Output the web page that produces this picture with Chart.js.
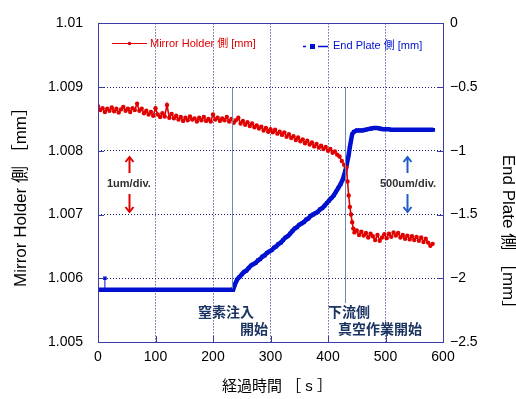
<!DOCTYPE html>
<html><head><meta charset="utf-8">
<script src="https://cdn.jsdelivr.net/npm/chart.js@4/dist/chart.umd.min.js"></script>
<style>html,body{margin:0;padding:0;background:#fff}</style>
</head><body>
<canvas id="c" width="516" height="399"></canvas>
<script>
// ---- data ----
const xTickValues = [0,100,200,300,400,500,600];
const leftTickValues = [1.005,1.006,1.007,1.008,1.009,1.01];
const rightTickValues = [-2.5,-2,-1.5,-1,-0.5,0];

const redTimes = [0,4,8,12,16,20,24,28,32,36,40,44,48,52,56,60,64,68,72,76,80,84,88,92,96,100,104,108,112,116,120,124,128,132,136,140,144,148,152,156,160,164,168,172,176,180,184,188,192,196,200,204,208,212,216,220,224,228,232,236,240,244,248,252,256,260,264,268,272,276,280,284,288,292,296,300,304,308,312,316,320,324,328,332,336,340,344,348,352,356,360,364,368,372,376,380,384,388,392,396,400,404,408,412,416,420,424,428,432,434,436,438,440,442,444,446,450,454,458,462,466,470,474,478,482,486,490,494,498,502,506,510,514,518,522,526,530,534,538,542,546,550,554,558,562,566,570,574,578,582];
const redValues = [1.00870,1.00864,1.00867,1.00861,1.00866,1.00863,1.00868,1.00862,1.00866,1.00860,1.00865,1.00869,1.00863,1.00866,1.00861,1.00867,1.00864,1.00874,1.00863,1.00866,1.00859,1.00863,1.00857,1.00861,1.00855,1.00867,1.00857,1.00853,1.00859,1.00854,1.00872,1.00852,1.00858,1.00851,1.00855,1.00849,1.00853,1.00847,1.00852,1.00848,1.00854,1.00849,1.00851,1.00846,1.00852,1.00848,1.00853,1.00847,1.00850,1.00846,1.00857,1.00849,1.00852,1.00847,1.00851,1.00848,1.00853,1.00846,1.00850,1.00844,1.00848,1.00852,1.00843,1.00847,1.00841,1.00845,1.00839,1.00843,1.00837,1.00840,1.00835,1.00838,1.00832,1.00836,1.00830,1.00834,1.00829,1.00833,1.00827,1.00830,1.00825,1.00829,1.00822,1.00826,1.00820,1.00823,1.00817,1.00821,1.00815,1.00818,1.00812,1.00816,1.00810,1.00813,1.00807,1.00811,1.00805,1.00808,1.00803,1.00806,1.00800,1.00803,1.00797,1.00799,1.00794,1.00791,1.00784,1.00778,1.00774,1.00752,1.00730,1.00712,1.00700,1.00688,1.00678,1.00672,1.00675,1.00668,1.00673,1.00667,1.00671,1.00664,1.00670,1.00666,1.00660,1.00668,1.00659,1.00664,1.00669,1.00663,1.00670,1.00665,1.00672,1.00667,1.00671,1.00664,1.00668,1.00662,1.00667,1.00661,1.00666,1.00660,1.00665,1.00659,1.00664,1.00657,1.00662,1.00656,1.00651,1.00654];

const blueTimes = [0,5,10,15,20,25,30,35,40,45,50,55,60,65,70,75,80,85,90,95,100,105,110,115,120,125,130,135,140,145,150,155,160,165,170,175,180,185,190,195,200,205,210,215,220,225,230,235,238,242,246,250,254,258,262,266,270,274,278,282,286,290,294,298,302,306,310,314,318,322,326,330,334,338,342,346,350,354,358,362,366,370,374,378,382,386,390,394,398,402,406,410,414,418,422,426,430,433,436,438,440,442,445,450,455,460,465,470,475,480,485,490,495,500,505,510,515,520,525,530,535,540,545,550,555,560,565,570,575,580,583];
const blueValues = [-2.09,-2.09,-2.09,-2.09,-2.09,-2.09,-2.09,-2.09,-2.09,-2.09,-2.09,-2.09,-2.09,-2.09,-2.09,-2.09,-2.09,-2.09,-2.09,-2.09,-2.09,-2.09,-2.09,-2.09,-2.09,-2.09,-2.09,-2.09,-2.09,-2.09,-2.09,-2.09,-2.09,-2.09,-2.09,-2.09,-2.09,-2.09,-2.09,-2.09,-2.09,-2.09,-2.09,-2.09,-2.09,-2.09,-2.09,-2.09,-2.05,-2.01,-1.99,-1.97,-1.95,-1.94,-1.92,-1.90,-1.89,-1.88,-1.86,-1.85,-1.83,-1.82,-1.80,-1.79,-1.78,-1.76,-1.75,-1.73,-1.72,-1.70,-1.68,-1.67,-1.65,-1.63,-1.61,-1.60,-1.58,-1.57,-1.56,-1.54,-1.53,-1.51,-1.50,-1.49,-1.48,-1.46,-1.45,-1.43,-1.41,-1.39,-1.37,-1.35,-1.32,-1.29,-1.26,-1.22,-1.16,-1.10,-1.03,-0.97,-0.92,-0.87,-0.85,-0.84,-0.84,-0.84,-0.835,-0.83,-0.825,-0.82,-0.82,-0.825,-0.83,-0.83,-0.83,-0.835,-0.835,-0.835,-0.835,-0.835,-0.835,-0.835,-0.835,-0.835,-0.835,-0.835,-0.835,-0.835,-0.835,-0.835,-0.835];

const blueStemTimes = [12,12];
const blueStemValues = [-2.09,-2.00];

const eventTimes = [233, 429];
const eventLineTop = [1.009, 1.009];
const eventLineBottom = [1.00584, 1.00561];

const legendLabels = ['Mirror Holder 側 [mm]', 'End Plate 側 [mm]'];
const xTitle = '経過時間 ［ s ］';
const leftTitle = 'Mirror Holder 側 ［mm］';
const rightTitle = 'End Plate 側 ［mm］';
const noteTexts = [['窒素注入','開始'],['下流側','真空作業開始']];
const scaleTexts = ['1um/div.','500um/div.'];

// ---- styles ----
const RED = '#e00000', BLUE = '#0010d0', FRAME = '#3c3ca8', GRID = '#1c1c78';
const NOTE = '#1c3461', EVLINE = '#6a8cb4';
const FONT = "'Liberation Sans', 'Noto Sans CJK JP', sans-serif";

const toXY = (xs, ys) => xs.map((x, i) => ({x, y: ys[i]}));

const overlay = {
  id: 'overlay',
  afterDatasetsDraw(chart) {
    const {ctx, chartArea: a, scales: {x, y, y2}} = chart;
    const r = v => Math.round(v) + 0.5;
    ctx.save();
    // event lines
    ctx.strokeStyle = EVLINE; ctx.lineWidth = 1;
    eventTimes.forEach((t, i) => {
      const px = r(x.getPixelForValue(t));
      ctx.beginPath();
      ctx.moveTo(px, y.getPixelForValue(eventLineTop[i]));
      ctx.lineTo(px, y.getPixelForValue(eventLineBottom[i]));
      ctx.stroke();
    });
    // frame
    ctx.strokeStyle = FRAME; ctx.lineWidth = 1;
    ctx.strokeRect(r(a.left), r(a.top), Math.round(a.right) - Math.round(a.left), Math.round(a.bottom) - Math.round(a.top));
    // inward ticks
    ctx.beginPath();
    xTickValues.forEach(v => { const px = r(x.getPixelForValue(v)); ctx.moveTo(px, a.bottom); ctx.lineTo(px, a.bottom - 6); });
    leftTickValues.forEach(v => { const py = r(y.getPixelForValue(v)); ctx.moveTo(a.left, py); ctx.lineTo(a.left + 6, py); });
    rightTickValues.forEach(v => { const py = r(y2.getPixelForValue(v)); ctx.moveTo(a.right, py); ctx.lineTo(a.right - 6, py); });
    ctx.stroke();

    // legend
    ctx.textBaseline = 'middle'; ctx.textAlign = 'left';
    ctx.font = '11px ' + FONT;
    ctx.strokeStyle = RED; ctx.fillStyle = RED; ctx.lineWidth = 1;
    ctx.beginPath(); ctx.moveTo(112, 43.5); ctx.lineTo(147, 43.5); ctx.stroke();
    ctx.beginPath(); ctx.arc(129.5, 43.5, 1.8, 0, Math.PI * 2); ctx.fill();
    ctx.fillText(legendLabels[0], 150, 44);
    ctx.strokeStyle = BLUE; ctx.fillStyle = BLUE; ctx.lineWidth = 1.5;
    ctx.beginPath(); ctx.moveTo(303, 46.5); ctx.lineTo(306, 46.5); ctx.moveTo(318, 46.5); ctx.lineTo(328, 46.5); ctx.stroke();
    ctx.fillRect(310, 44, 5, 5);
    ctx.fillText(legendLabels[1], 333, 46);

    // notes
    ctx.fillStyle = NOTE; ctx.font = 'bold 14px ' + FONT;
    ctx.fillText(noteTexts[0][0], 198, 313);
    ctx.fillText(noteTexts[0][1], 240, 330);
    ctx.fillText(noteTexts[1][0], 328, 313);
    ctx.fillText(noteTexts[1][1], 338, 330);

    // scale texts
    ctx.fillStyle = '#303030'; ctx.font = 'bold 11px ' + FONT;
    ctx.fillText(scaleTexts[0], 107, 184);
    ctx.fillText(scaleTexts[1], 380, 184);

    // arrows
    const arrow = (cx, y1, y2, col) => {
      ctx.strokeStyle = col; ctx.lineWidth = 2;
      ctx.beginPath(); ctx.moveTo(cx, y1); ctx.lineTo(cx, y2); ctx.stroke();
      const d = y2 < y1 ? 1 : -1;
      ctx.beginPath(); ctx.moveTo(cx - 4, y2 + d * 5); ctx.lineTo(cx, y2); ctx.lineTo(cx + 4, y2 + d * 5); ctx.stroke();
    };
    arrow(129.5, 173, 157, RED); arrow(129.5, 194, 212, RED);
    arrow(407.5, 173, 157, '#1f5cc8'); arrow(407.5, 194, 212, '#1f5cc8');

    // axis titles
    ctx.fillStyle = '#000'; ctx.textAlign = 'center';
    ctx.font = '15px ' + FONT;
    ctx.fillText(xTitle, 277, 387);
    ctx.font = '17px ' + FONT;
    ctx.save(); ctx.translate(21, 193); ctx.rotate(-Math.PI / 2); ctx.fillText(leftTitle, 0, 0); ctx.restore();
    ctx.save(); ctx.translate(508, 236); ctx.rotate(Math.PI / 2); ctx.fillText(rightTitle, 0, 0); ctx.restore();
    ctx.restore();
  }
};

new Chart(document.getElementById('c'), {
  type: 'line',
  data: {
    datasets: [
      { label: legendLabels[0], data: toXY(redTimes, redValues), yAxisID: 'y',
        borderColor: RED, backgroundColor: RED, borderWidth: 1.6, pointRadius: 2.2,
        pointBorderWidth: 0, pointStyle: 'circle', tension: 0 },
      { label: legendLabels[1], data: toXY(blueTimes, blueValues), yAxisID: 'y2',
        borderColor: BLUE, backgroundColor: BLUE, borderWidth: 4.5, pointRadius: 2.6,
        pointBorderWidth: 0, pointStyle: 'rect', tension: 0 },
      { label: 'stem', data: toXY(blueStemTimes, blueStemValues), yAxisID: 'y2',
        borderColor: BLUE, backgroundColor: BLUE, borderWidth: 1, pointRadius: [0, 2.5],
        pointBorderWidth: 0, pointStyle: 'rect' }
    ]
  },
  options: {
    responsive: false, animation: false, events: [],
    layout: { padding: { top: 20, left: 0, right: 0, bottom: 0 } },
    plugins: { legend: { display: false }, tooltip: { enabled: false } },
    scales: {
      x: { type: 'linear', min: 0, max: 600,
        afterBuildTicks: s => { s.ticks = xTickValues.map(v => ({value: v})); },
        ticks: { color: '#000', font: { family: FONT, size: 14 }, padding: 7, maxRotation: 0 },
        grid: { color: GRID, lineWidth: 1, drawTicks: false },
        border: { display: false, dash: [1, 2] },
        afterFit: s => { s.height = 57; } },
      y: { position: 'left', min: 1.005, max: 1.01,
        afterBuildTicks: s => { s.ticks = leftTickValues.map(v => ({value: v})); },
        ticks: { color: '#000', font: { family: FONT, size: 14 }, padding: 15,
          callback: v => String(Number(v.toFixed(3))) },
        grid: { color: GRID, lineWidth: 1, drawTicks: false },
        border: { display: false, dash: [1, 2] },
        afterFit: s => { s.width = 98; } },
      y2: { position: 'right', min: -2.5, max: 0,
        afterBuildTicks: s => { s.ticks = rightTickValues.map(v => ({value: v})); },
        ticks: { color: '#000', font: { family: FONT, size: 14 }, padding: 7,
          callback: v => v === 0 ? '0' : '\u2212' + String(Math.abs(v)) },
        grid: { display: false, drawTicks: false },
        border: { display: false },
        afterFit: s => { s.width = 73; } }
    }
  },
  plugins: [overlay]
});
</script>
</body></html>
